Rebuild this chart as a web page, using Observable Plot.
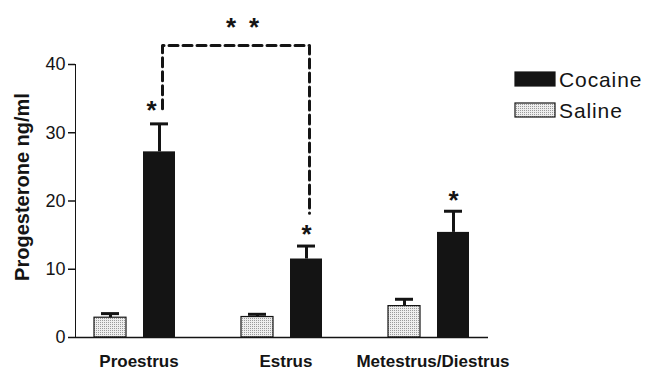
<!DOCTYPE html>
<html><head><meta charset="utf-8">
<script src="https://cdn.jsdelivr.net/npm/d3@7"></script>
<script src="https://cdn.jsdelivr.net/npm/@observablehq/plot@0.6"></script>
<style>body{margin:0;background:#fff}#chart{width:647px;height:373px}</style>
</head><body><div id="chart"></div>
<script>
// ---- data ----
const phases = ["Proestrus", "Estrus", "Metestrus/Diestrus"];
const treatments = ["Saline", "Cocaine"];
const salineMean = [2.9, 3.0, 4.6];
const salineSem = [0.6, 0.4, 1.0];
const cocaineMean = [27.2, 11.5, 15.4];
const cocaineSem = [4.1, 1.9, 3.1];
const yTicks = [0, 10, 20, 30, 40];
const yLabel = "Progesterone ng/ml";
const sigPhases = ["Proestrus", "Estrus", "Metestrus/Diestrus"]; // cocaine vs saline, p<0.05
const bracketPhases = ["Proestrus", "Proestrus", "Estrus", "Estrus"]; // cocaine: proestrus vs estrus
const bracketY = [33.5, 42.8, 42.8, 18.2];

// ---- table built from the arrays ----
const key = (p, t) => p + "|" + t;
const rows = [];
phases.forEach((p, i) => {
  rows.push({phase: p, treatment: "Saline", key: key(p, "Saline"), mean: salineMean[i], sem: salineSem[i]});
  rows.push({phase: p, treatment: "Cocaine", key: key(p, "Cocaine"), mean: cocaineMean[i], sem: cocaineSem[i]});
});
const saline = rows.filter(d => d.treatment === "Saline");
const cocaine = rows.filter(d => d.treatment === "Cocaine");
const xDomain = [];
phases.forEach((p, i) => {
  if (i > 0) xDomain.push(" ".repeat(i));
  treatments.forEach(t => xDomain.push(key(p, t)));
});
const stars = rows.filter(d => d.treatment === "Cocaine" && sigPhases.includes(d.phase));
const bracket = bracketPhases.map((p, i) => ({key: key(p, "Cocaine"), y: bracketY[i]}));

const W = 647, H = 373, mL = 75, mR = 159, mT = 64, mB = 36;
const pIn = 0.34, pOut = 0.382;
const step = (W - mL - mR) / (xDomain.length - pIn + 2 * pOut);
const ink = "#141414";
const font = "Liberation Sans, Arial, Helvetica, sans-serif";

const plot = Plot.plot({
  width: W, height: H,
  marginLeft: mL, marginRight: mR, marginTop: mT, marginBottom: mB,
  style: {fontFamily: font, fontSize: "18px", color: ink, background: "#fff"},
  x: {type: "band", domain: xDomain, paddingInner: pIn, paddingOuter: pOut, axis: null},
  y: {domain: [0, 40], ticks: yTicks, tickSize: 7, tickPadding: 3, line: true, label: null},
  marks: [
    Plot.barY(saline, {x: "key", y: "mean", fill: "url(#stipple)", stroke: ink, strokeWidth: 1.2}),
    Plot.barY(cocaine, {x: "key", y: "mean", fill: ink}),
    Plot.ruleX(rows, {x: "key", y1: "mean", y2: d => d.mean + d.sem, stroke: ink, strokeWidth: 3}),
    Plot.tickY(rows, {x: "key", y: d => d.mean + d.sem, stroke: ink, strokeWidth: 3, insetLeft: 7, insetRight: 7}),
    Plot.ruleY([0], {stroke: ink, strokeWidth: 1.5}),
    Plot.line(bracket, {x: "key", y: "y", dx: 3, stroke: ink, strokeWidth: 3, strokeDasharray: "9,5"}),
    Plot.text(stars.filter(d => d.phase === bracketPhases[0]), {x: "key", y: d => d.mean + d.sem, text: () => "*", dx: -8, dy: -13, fontSize: 26, fontWeight: "bold", fill: ink}),
    Plot.text(stars.filter(d => d.phase !== bracketPhases[0]), {x: "key", y: d => d.mean + d.sem, text: () => "*", dy: -11, fontSize: 26, fontWeight: "bold", fill: ink}),
    Plot.text([bracketY[1]], {x: () => key(bracketPhases[3], "Saline"), y: d => d, text: () => "*\u2002*", dx: -15, dy: -18, fontSize: 26, fontWeight: "bold", fill: ink}),
    Plot.text(phases, {x: p => key(p, "Cocaine"), text: p => p, frameAnchor: "bottom", textAnchor: "middle", dx: -step / 2 + 4, dy: 29, fontSize: 17, fontWeight: "bold", fill: ink, ariaLabel: "phase-labels"}),
    Plot.text([yLabel], {frameAnchor: "left", textAnchor: "middle", text: d => d, rotate: -90, dx: -53, dy: -14, fontSize: 20, fontWeight: "bold", fill: ink, ariaLabel: "y-label"})
  ]
});

const svg = d3.select(plot);
const pat = svg.insert("defs", ":first-child").append("pattern")
  .attr("id", "stipple").attr("width", 2).attr("height", 2).attr("patternUnits", "userSpaceOnUse");
pat.append("rect").attr("width", 2).attr("height", 2).attr("fill", "#eeeeee");
pat.append("rect").attr("width", 1).attr("height", 1).attr("fill", "#9a9a9a");

svg.select('g[aria-label="phase-labels"]').attr("letter-spacing", "1.6px");
svg.select('g[aria-label="y-label"]').attr("letter-spacing", "2px");
svg.select('g[aria-label="y-axis tick"]').attr("stroke-width", 1.5);

// legend
const legend = svg.append("g").attr("font-family", font).attr("font-size", 21)
  .attr("letter-spacing", "0.9px").attr("text-anchor", "start");
const items = [{label: treatments[1], fill: ink, y: 72}, {label: treatments[0], fill: "url(#stipple)", y: 103}];
items.forEach(it => {
  legend.append("rect").attr("x", 515).attr("y", it.y).attr("width", 40).attr("height", 14)
    .attr("fill", it.fill).attr("stroke", ink).attr("stroke-width", 1.2);
  legend.append("text").attr("x", 559).attr("y", it.y + 7).attr("dy", "0.36em").attr("fill", ink).text(it.label);
});

document.getElementById("chart").append(plot);
</script>
</body></html>
